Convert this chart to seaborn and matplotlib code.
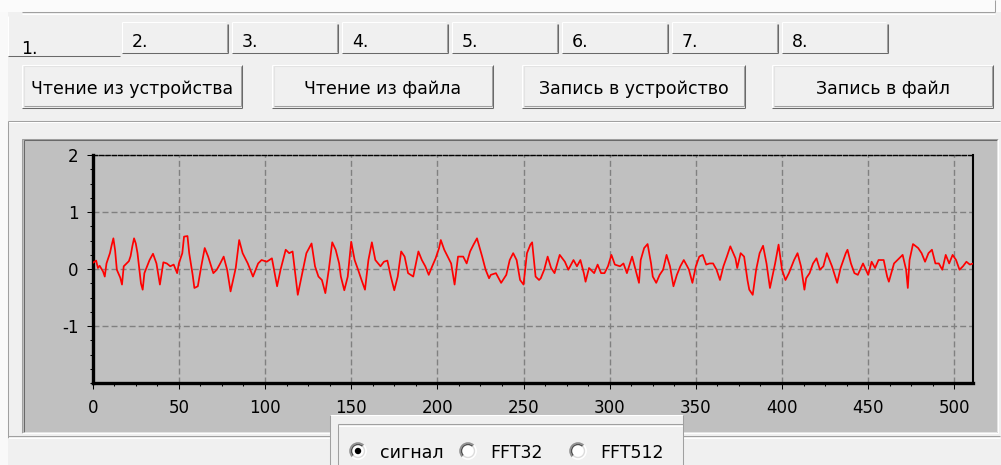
import matplotlib
matplotlib.use("Agg")
import matplotlib.pyplot as plt
from matplotlib.patches import Rectangle, Circle, Wedge
from matplotlib.ticker import MultipleLocator
import seaborn as sns
import pandas as pd

# ---- data -----------------------------------------------------------------
tab_labels = ["1.", "2.", "3.", "4.", "5.", "6.", "7.", "8."]
button_labels = ["Чтение из устройства", "Чтение из файла",
                 "Запись в устройство", "Запись в файл"]
radio_labels = ["сигнал", "FFT32", "FFT512"]
x_ticks = [0, 50, 100, 150, 200, 250, 300, 350, 400, 450, 500]
y_ticks = [-1, 0, 1, 2]

sample = [0, 2, 3, 4, 6, 7, 8, 10, 11, 12, 13, 14, 16, 17, 18, 20, 21, 22, 23,
          24, 25, 26, 28, 29, 30, 33, 35, 37, 39, 41, 43, 45, 47, 49, 50, 52,
          53, 55, 56, 58, 59, 61, 63, 65, 67, 70, 72,
          74, 76, 78, 80, 83, 85, 87, 90, 93, 96, 98, 101, 104, 107, 109, 112,
          114, 116, 119, 122, 124, 127, 129, 131, 133, 135, 137, 139, 141, 143,
          144, 146, 148, 150, 152, 154, 156, 158, 160, 162, 164, 167, 169, 171,
          173, 175, 177, 179, 181, 183, 186, 189, 191, 193, 195, 197, 199, 201,
          202, 204, 206, 208, 210, 212, 215, 217, 219, 221, 223, 226, 228, 230,
          231, 234, 237, 240, 242, 244, 246, 248, 250, 252, 254, 255, 257, 259,
          260, 262, 264, 266, 268, 271, 274, 276, 279, 281, 283, 285, 286, 288,
          289, 291, 293, 295, 297, 299, 301, 303, 306, 308, 310, 313, 315, 317,
          318, 320, 322, 324, 325, 327, 329, 331, 333, 335, 337, 339, 341, 343,
          345, 346, 348, 350, 352, 354, 356, 358, 360, 362, 364, 366, 368, 370,
          373, 374, 376, 378, 380, 381, 383, 385, 387, 389, 391, 393, 396, 398,
          400, 402, 404, 407, 409, 411, 413, 414, 416, 418, 420, 422, 424, 426,
          429, 432, 434, 437, 438, 440, 442, 444, 447, 450, 452, 454, 456, 459,
          461, 462, 465, 467, 470, 472, 473, 474, 476, 479, 481, 483, 485, 487,
          489, 491, 493, 495, 497, 499, 501, 503, 505, 507, 509, 511]
signal = [0.11, 0.15, 0.02, 0.06, -0.04, -0.13, 0.10, 0.28, 0.42, 0.54, 0.33,
          -0.01, -0.15, -0.27, 0.05, 0.11, 0.14, 0.23, 0.40, 0.54, 0.45, 0.28,
          -0.25, -0.36, -0.07, 0.16, 0.27, 0.10, -0.27, 0.12, 0.10, 0.05, 0.08,
          -0.07, 0.10, 0.28, 0.57, 0.58, 0.28, -0.10, -0.33, -0.30, 0.05, 0.37,
          0.22, -0.07, -0.01, 0.10, 0.22, -0.01, -0.39, 0.02, 0.51, 0.28, 0.10,
          -0.13, 0.10, 0.16, 0.13, 0.19, -0.30, -0.01, 0.34, 0.28, 0.31, -0.45,
          -0.01, 0.28, 0.45, 0.05, -0.13, -0.19, -0.42, -0.01, 0.47, 0.34, 0.10,
          -0.13, -0.37, -0.13, 0.48, 0.16, -0.01, -0.19, -0.36, 0.16, 0.47,
          0.16, 0.05, 0.13, 0.15, -0.13, -0.37, -0.13, 0.31, 0.22, -0.07, -0.13,
          0.31, 0.16, 0.05, -0.10, 0.05, 0.19, 0.37, 0.51, 0.34, 0.22, 0.10,
          -0.27, 0.22, 0.22, 0.10, 0.31, 0.43, 0.54, 0.22, -0.01, -0.16, -0.10,
          -0.07, -0.24, -0.10, 0.16, 0.28, 0.16, -0.19, -0.27, 0.28, 0.43, 0.47,
          -0.13, -0.19, -0.16, -0.01, 0.22, 0.02, -0.07, 0.25, 0.13, -0.01,
          0.16, 0.05, 0.16, -0.07, -0.22, 0.02, -0.01, -0.07, 0.08, -0.07,
          -0.07, 0.05, 0.25, 0.08, 0.05, 0.10, -0.07, 0.22, -0.01, -0.24, 0.16,
          0.37, 0.44, 0.10, -0.13, -0.24, -0.10, -0.01, 0.25, 0.05, -0.30,
          -0.10, 0.05, 0.16, 0.05, -0.01, -0.24, 0.05, 0.22, 0.25, 0.08, 0.10,
          0.10, -0.01, -0.19, 0.05, 0.22, 0.40, 0.19, 0.02, 0.28, 0.22, -0.20,
          -0.36, -0.45, -0.01, 0.28, 0.41, 0.10, -0.33, 0.10, 0.43, -0.01,
          -0.19, -0.07, 0.16, 0.28, 0.05, -0.36, -0.16, -0.07, 0.10, 0.19,
          -0.01, 0.05, 0.28, 0.05, -0.24, 0.02, 0.28, 0.34, 0.10, -0.07, -0.10,
          0.10, -0.10, 0.13, 0.02, 0.16, 0.16, -0.13, -0.22, 0.10, 0.16, 0.25,
          -0.01, -0.33, 0.16, 0.44, 0.37, 0.28, 0.13, 0.28, 0.34, 0.10, 0.10,
          -0.01, 0.25, 0.10, 0.25, 0.16, -0.01, 0.05, 0.13, 0.08, 0.10]

# ---- figure & window chrome -------------------------------------------------
W, H = 1001, 465
fig = plt.figure(figsize=(W / 100, H / 100), dpi=100)
fig.patch.set_facecolor("#F0F0F0")
ui = fig.add_axes([0, 0, 1, 1])
ui.set_xlim(0, W)
ui.set_ylim(H, 0)
ui.axis("off")

FONT = "DejaVu Sans"
HI, LIGHT, SHADOW, DARK = "#FFFFFF", "#E3E3E3", "#A0A0A0", "#696969"
LW = 0.75


def hline(x0, x1, y, c, target=None):
    (target or ui).plot([x0, x1], [y, y], color=c, lw=LW, solid_capstyle="butt")


def vline(x, y0, y1, c, target=None):
    (target or ui).plot([x, x], [y0, y1], color=c, lw=LW, solid_capstyle="butt")


def bevel(x0, y0, x1, y1, raised=True, face="#F0F0F0"):
    ui.add_patch(Rectangle((x0, y0), x1 - x0, y1 - y0, facecolor=face,
                           edgecolor="none"))
    if raised:
        o_tl, o_br, i_tl, i_br = HI, DARK, LIGHT, SHADOW
    else:
        o_tl, o_br, i_tl, i_br = SHADOW, HI, DARK, LIGHT
    hline(x0, x1, y0, o_tl); vline(x0, y0, y1, o_tl)
    hline(x0, x1, y1, o_br); vline(x1, y0, y1, o_br)
    hline(x0 + 1.5, x1 - 1.5, y0 + 1.5, i_tl); vline(x0 + 1.5, y0 + 1.5, y1 - 1.5, i_tl)
    hline(x0 + 1.5, x1 - 1.5, y1 - 1.5, i_br); vline(x1 - 1.5, y0 + 1.5, y1 - 1.5, i_br)


# top strip belonging to the frame above the tabs
ui.add_patch(Rectangle((0, 0), W, 12, facecolor="#FBFBFB", edgecolor="none"))
hline(22, 995, 12.5, SHADOW)
hline(22, 995, 14, HI)
vline(995, 0, 12.5, SHADOW)
ui.add_patch(Rectangle((0, 12), 8, H, facecolor="#F9F9F9", edgecolor="none"))

# tabs
vline(8, 16, 56, HI)
hline(8, 120, 56, DARK)
ui.text(21, 54, tab_labels[0], fontsize=12.5, family=FONT, ha="left",
        va="baseline", color="black")
for k, lab in enumerate(tab_labels[1:]):
    x0 = 122 + 110 * k
    x1 = x0 + 106
    hline(x0, x1 - 2, 22, HI)
    vline(x0, 22, 53, HI)
    vline(x1, 24, 53, DARK)
    vline(x1 - 1.5, 24, 52, SHADOW)
    hline(x0, x1, 53, DARK)
    ui.text(x0 + 10, 47, lab, fontsize=12.5, family=FONT, ha="left",
            va="baseline", color="black")

# buttons
btn_x = [(22, 242), (272, 493), (522, 745), (772, 993)]
for (x0, x1), lab in zip(btn_x, button_labels):
    bevel(x0, 65, x1, 108, raised=True)
    ui.text((x0 + x1) / 2, 94, lab, fontsize=12.5, family=FONT, ha="center",
            va="baseline", color="black")

# group frame and sunken plot panel
hline(8, 1000, 121, SHADOW)
hline(8, 1000, 122.5, HI)
vline(8, 121, 438, SHADOW)
hline(8, 1000, 436, SHADOW)
hline(8, 1000, 437.5, HI)
bevel(22, 139, 998, 433, raised=False, face="#C0C0C0")

# ---- signal plot ------------------------------------------------------------
ax_l, ax_r, ax_t, ax_b = 92.7, 973.3, 155.0, 383.3
ax = fig.add_axes([ax_l / W, 1 - ax_b / H, (ax_r - ax_l) / W, (ax_b - ax_t) / H])
ax.set_facecolor("#C0C0C0")
df = pd.DataFrame({"sample": sample, "signal": signal})
sns.lineplot(data=df, x="sample", y="signal", ax=ax, color="#FF0000",
             linewidth=1.25, zorder=3)
ax.set_xlim(0, 511)
ax.set_ylim(-2, 2)
ax.set_xlabel("")
ax.set_ylabel("")
ax.set_xticks(x_ticks)
ax.set_xticklabels([str(v) for v in x_ticks])
ax.set_yticks(y_ticks)
ax.set_yticklabels([str(v) for v in y_ticks])
ax.xaxis.set_minor_locator(MultipleLocator(12.5))
ax.yaxis.set_minor_locator(MultipleLocator(0.25))
ax.tick_params(which="major", length=4.3, width=0.75, color="black",
               labelsize=12, pad=6)
ax.tick_params(axis="x", which="major", pad=7)
ax.tick_params(which="minor", length=2.3, width=0.75, color="black")
for t in ax.get_xticklabels() + ax.get_yticklabels():
    t.set_family(FONT)
ax.set_axisbelow(True)
ax.grid(which="major", color="#808080", linestyle=(0, (4.3, 2.2)), lw=1.0)
ax.spines["left"].set_linewidth(2.4)
ax.spines["bottom"].set_linewidth(2.4)
ax.spines["right"].set_linewidth(1.5)
ax.spines["top"].set_linewidth(1.0)
ax.spines["top"].set_linestyle((0, (3, 1.5)))
for s in ax.spines.values():
    s.set_color("black")

# ---- radio group ------------------------------------------------------------
front = fig.add_axes([0, 0, 1, 1], zorder=5)
front.set_xlim(0, W)
front.set_ylim(H, 0)
front.axis("off")
front.add_patch(Rectangle((330, 415), 353, 55, facecolor="#F0F0F0",
                          edgecolor="none"))
hline(330, 683, 415, HI, front)
hline(338, 683, 424, SHADOW, front)
hline(338, 683, 425.5, HI, front)
vline(330, 415, H, SHADOW, front)
vline(338, 424, H, SHADOW, front)
vline(683, 415, H, SHADOW, front)

radio_x = [358, 468, 578]
for k, (cx, lab) in enumerate(zip(radio_x, radio_labels)):
    cy = 451
    front.add_patch(Circle((cx, cy), 8.5, facecolor="white", edgecolor="none"))
    # sunken ring: dark upper-left half, light lower-right half (y axis points down)
    front.add_patch(Wedge((cx, cy), 8.8, 135, 315, width=1.6, facecolor="#909090",
                          edgecolor="none"))
    front.add_patch(Wedge((cx, cy), 7.2, 135, 315, width=1.4, facecolor="#505050",
                          edgecolor="none"))
    front.add_patch(Wedge((cx, cy), 8.8, 315, 495, width=1.6, facecolor="#FFFFFF",
                          edgecolor="none"))
    front.add_patch(Wedge((cx, cy), 7.2, 315, 495, width=1.4, facecolor="#DCDCDC",
                          edgecolor="none"))
    if k == 0:
        front.add_patch(Circle((cx, cy), 3.2, facecolor="black",
                               edgecolor="none"))
    front.text(cx + 22, 458, lab, fontsize=12.5, family=FONT, ha="left",
               va="baseline", color="black")

fig.savefig("out.png", dpi=100, facecolor=fig.get_facecolor())
